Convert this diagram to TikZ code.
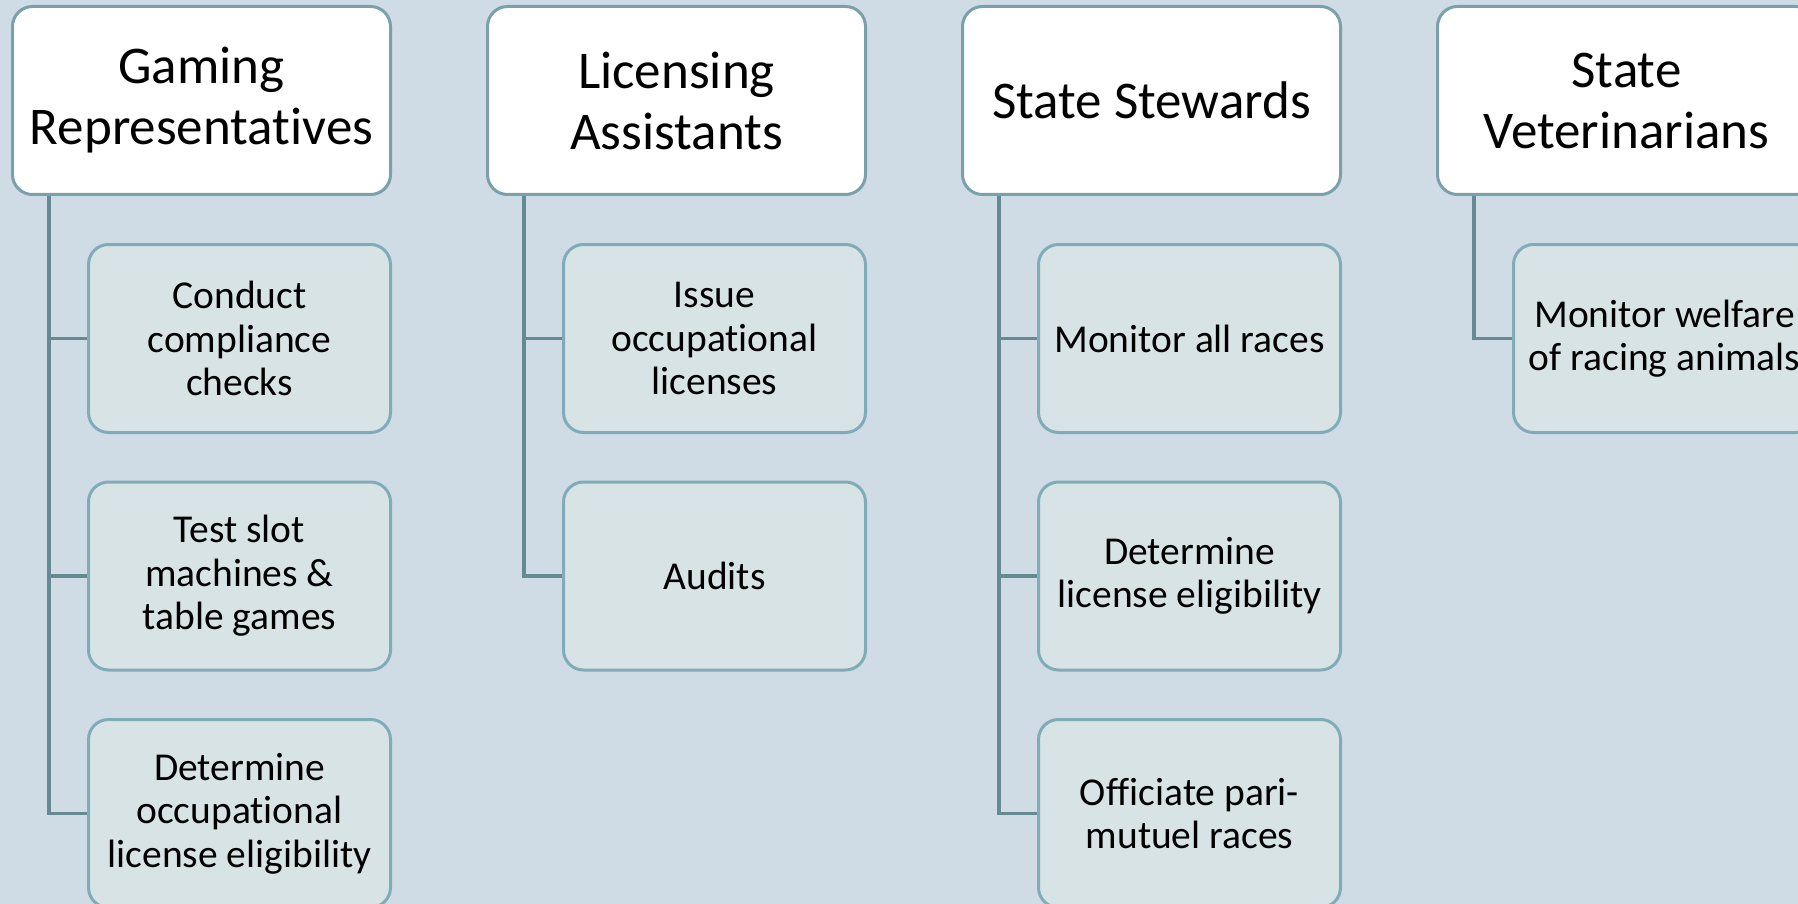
\documentclass[tikz,border=0pt]{standalone}
\usepackage{fontspec}
\setmainfont[Ligatures={NoCommon,NoRare}]{Carlito}
\definecolor{bg}{RGB}{207,219,229}
\definecolor{headborder}{RGB}{122,160,170}
\definecolor{childfill}{RGB}{216,227,230}
\definecolor{childborder}{RGB}{128,172,184}
\definecolor{conn}{RGB}{100,138,146}
\tikzset{
  head/.style={draw=headborder, fill=white, line width=3pt, rounded corners=20pt,
    minimum width=378pt, minimum height=188pt, inner sep=0pt, align=center,
    anchor=north west, font=\fontsize{53}{61}\selectfont},
  child/.style={draw=childborder, fill=childfill, line width=3pt, rounded corners=20pt,
    minimum width=302pt, minimum height=188pt, inner sep=0pt, align=center,
    anchor=north west, font=\fontsize{39.5}{43.5}\selectfont},
  conn/.style={draw=conn, line width=3.2pt}
}
\begin{document}
\begin{tikzpicture}[x=1pt,y=-1pt]
\useasboundingbox (0,0) rectangle (1798,904);
\clip (0,0) rectangle (1798,904);
\fill[bg] (0,0) rectangle (1798,904);
% headers
\node[head] (h1) at (11,5) {Gaming\\Representatives};
\node[head] (h2) at (486,5) {Licensing\\Assistants};
\node[head] (h3) at (961,5) {State Stewards};
\node[head] (h4) at (1436,5) {State\\Veterinarians};
% children
\node[child] (c11) at (87,243) {Conduct\\compliance\\checks};
\node[child] (c12) at (87,480.5) {Test slot\\machines \&\\table games};
\node[child] (c13) at (87,718) {Determine\\occupational\\license eligibility};
\node[child] (c21) at (562,243) {Issue\\occupational\\licenses};
\node[child] (c22) at (562,480.5) {Audits};
\node[child] (c31) at (1037,243) {Monitor all races};
\node[child] (c32) at (1037,480.5) {Determine\\license eligibility};
\node[child] (c33) at (1037,718) {Officiate pari-\\mutuel races};
\node[child] (c41) at (1512,243) {Monitor welfare\\of racing animals};
% connectors
\draw[conn] ([xshift=38pt]h1.south west) |- (c11.west);
\draw[conn] ([xshift=38pt]h1.south west) |- (c12.west);
\draw[conn] ([xshift=38pt]h1.south west) |- (c13.west);
\draw[conn] ([xshift=38pt]h2.south west) |- (c21.west);
\draw[conn] ([xshift=38pt]h2.south west) |- (c22.west);
\draw[conn] ([xshift=38pt]h3.south west) |- (c31.west);
\draw[conn] ([xshift=38pt]h3.south west) |- (c32.west);
\draw[conn] ([xshift=38pt]h3.south west) |- (c33.west);
\draw[conn] ([xshift=38pt]h4.south west) |- (c41.west);
\end{tikzpicture}
\end{document}
